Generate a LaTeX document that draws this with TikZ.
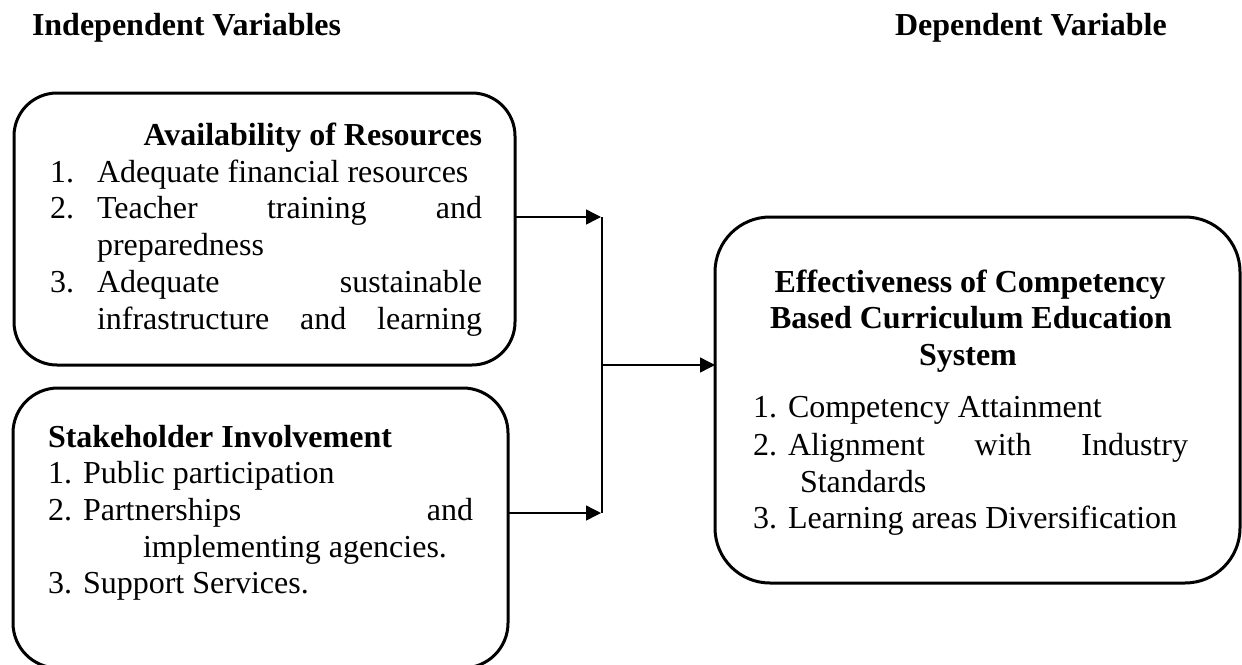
\documentclass[tikz,border=0pt]{standalone}
\usepackage{fontspec}
\setmainfont{Liberation Serif}
\usetikzlibrary{arrows.meta}
\tikzset{
  every node/.style={font=\fontsize{32}{37}\selectfont, inner sep=0pt, outer sep=0pt},
  varbox/.style={draw=black, line width=3pt, rounded corners=#1},
  txt/.style={anchor=base west},
  hd/.style={anchor=base west, font=\fontsize{32}{37}\selectfont\bfseries},
  link/.style={line width=1.4pt, -{Triangle[length=15pt,width=15pt]}},
  bar/.style={line width=2.5pt},
}
\begin{document}
\begin{tikzpicture}[x=1pt,y=-1pt]
\useasboundingbox (0,0) rectangle (1242,664);
\clip (0,0) rectangle (1242,664);
% headings
\node[hd] (indep) at (32,35) {Independent Variables};
\node[hd] (dep) at (895,35) {Dependent Variable};
% boxes
\node[varbox=43pt, minimum width=501pt, minimum height=272pt] (res) at (264.5,229) {};
\node[varbox=45pt, minimum width=495pt, minimum height=280pt] (stk) at (260.5,528) {};
\node[varbox=55pt, minimum width=525pt, minimum height=366pt] (eff) at (977.5,400) {};
% box 1 text
\node[hd, anchor=base east] (r0) at (482,145) {Availability of Resources};
\node[txt] (r1n) at (50,182) {1.};
\node[txt] (r1) at (97,182) {Adequate financial resources};
\node[txt] (r2n) at (50,218) {2.};
\node[txt] (r2) at (97,218) {\makebox[385pt][s]{Teacher training and}};
\node[txt] (r2b) at (97,255) {preparedness};
\node[txt] (r3n) at (50,292) {3.};
\node[txt] (r3) at (97,292) {\makebox[385pt][s]{Adequate sustainable}};
\node[txt] (r3b) at (97,329) {\makebox[385pt][s]{infrastructure and learning}};
% box 2 text
\node[hd] (s0) at (48,447) {Stakeholder Involvement};
\node[txt] (s1n) at (48,483) {1.};
\node[txt] (s1) at (83,483) {Public participation};
\node[txt] (s2n) at (48,520) {2.};
\node[txt] (s2) at (83,520) {\makebox[390pt][s]{Partnerships and}};
\node[txt] (s2b) at (143,557) {implementing agencies.};
\node[txt] (s3n) at (48,593) {3.};
\node[txt] (s3) at (83,593) {Support Services.};
% box 3 text
\node[hd, anchor=base] (e0) at (970,292) {Effectiveness of Competency};
\node[hd, anchor=base] (e0b) at (971,328) {Based Curriculum Education};
\node[hd, anchor=base] (e0c) at (968,365) {System};
\node[txt] (e1n) at (753,417) {1.};
\node[txt] (e1) at (788,417) {Competency Attainment};
\node[txt] (e2n) at (753,455) {2.};
\node[txt] (e2) at (788,455) {\makebox[400pt][s]{Alignment with Industry}};
\node[txt] (e2b) at (800,492) {Standards};
\node[txt] (e3n) at (753,528) {3.};
\node[txt] (e3) at (788,528) {Learning areas Diversification};
% connectors
\coordinate (jt) at (602,217);
\coordinate (jb) at (602,513);
\coordinate (jm) at (602,365);
\draw[bar] (jt) -- (jb);
\draw[link] (res.east |- jt) -- ([xshift=-1pt]jt);
\draw[link] (stk.east |- jb) -- ([xshift=-1pt]jb);
\draw[link] (jm) -- (eff.west |- jm);
\end{tikzpicture}
\end{document}
